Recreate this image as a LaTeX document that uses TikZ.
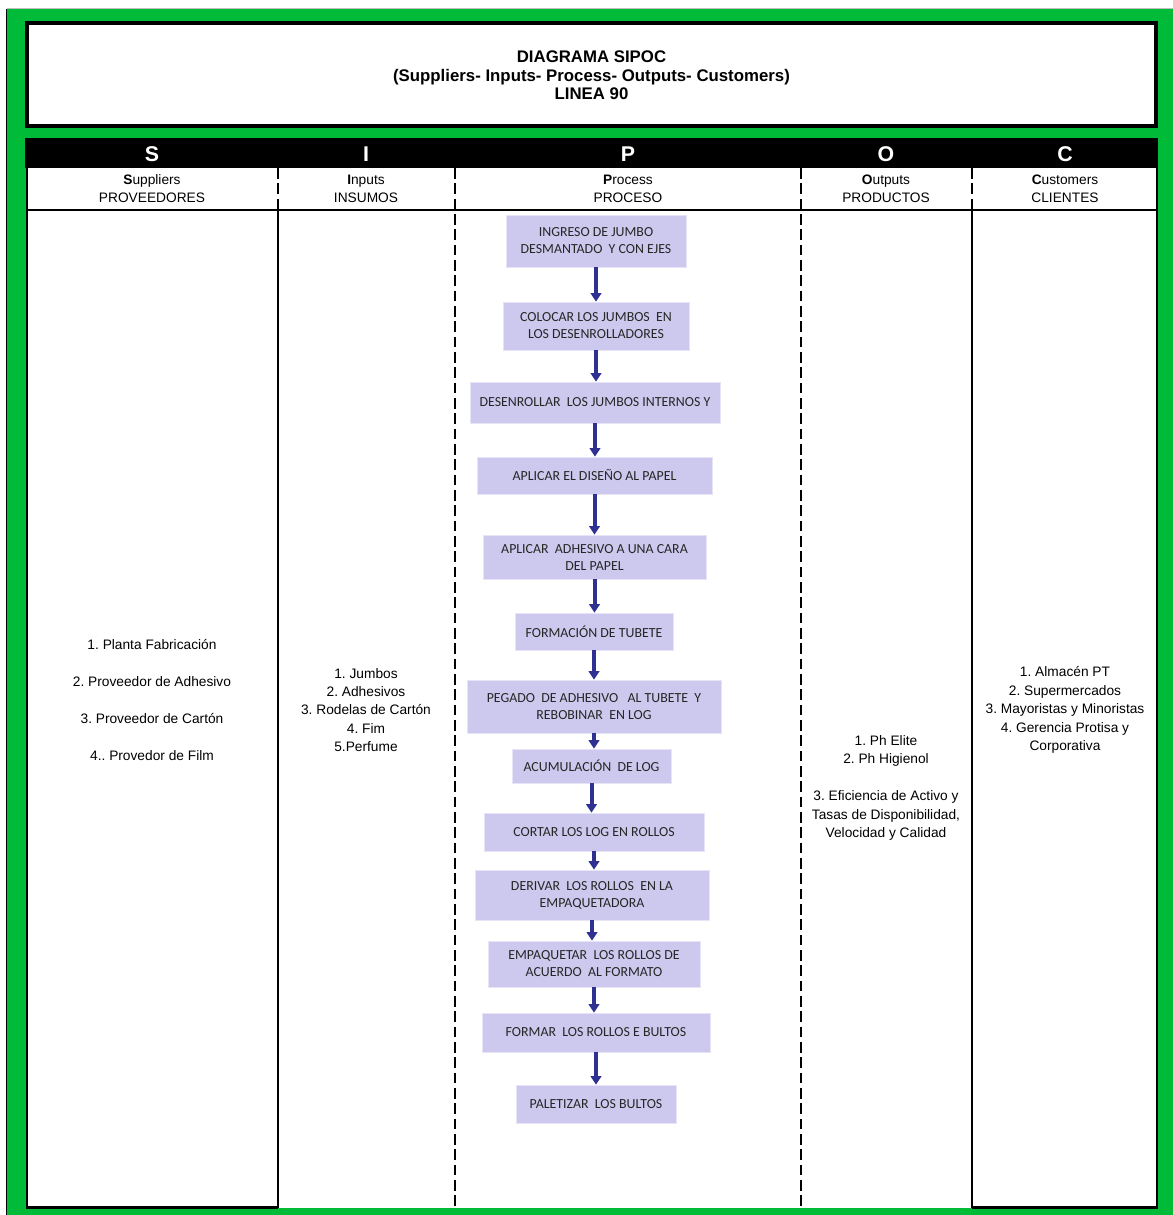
\documentclass[tikz,border=0pt]{standalone}
\usepackage{fontspec}
\setmainfont{Liberation Sans}
\newfontfamily\calib{Carlito}
\usetikzlibrary{arrows.meta}
\definecolor{sipgreen}{RGB}{0,187,56}
\definecolor{lav}{RGB}{205,201,238}
\definecolor{arrblue}{RGB}{46,49,146}
\frenchspacing
\begin{document}
\begin{tikzpicture}[x=0.75pt,y=-0.75pt,
  pbox/.style={fill=lav, draw=lav!50!white, line width=0.5pt, inner sep=0pt, align=center,
    font=\calib\fontsize{10.4}{12.75}\selectfont, text=black!85},
  flow/.style={draw=arrblue, line width=3pt, -{Triangle[length=6.5pt,width=8pt]}},
  body/.style={align=center, inner sep=0pt, font=\fontsize{10.3}{13.8}\selectfont},
  subhead/.style={align=center, inner sep=0pt, font=\fontsize{10.3}{13.5}\selectfont},
  letter/.style={text=white, inner sep=0pt, font=\fontsize{16}{18}\selectfont\bfseries},
  tline/.style={draw=black, line width=2pt},
  dline/.style={draw=black, line width=2.2pt, dash pattern=on 8pt off 3.5pt}
]
\useasboundingbox (0,0) rectangle (1173,1215);
\fill[white] (0,0) rectangle (1173,1215);
% green frame
\fill[sipgreen] (7,9) rectangle (1173,1215);
\draw[black, line width=0.8pt] (6.5,9) -- (6.5,1215);
\draw[black!25, line width=0.6pt] (7,8) -- (1173,8);
% title box
\draw[black, line width=3pt, fill=white] (27,23) rectangle (1156,126);
\node[align=center, inner sep=0pt, font=\fontsize{12.6}{13.9}\selectfont\bfseries] (title) at (591.5,75.5)
  {DIAGRAMA SIPOC\\(Suppliers- Inputs- Process- Outputs- Customers)\\LINEA 90};
% header bar
\fill[black] (25,138) rectangle (1158,168);
\fill[white] (26,168) rectangle (1157,1208);
% table lines
\draw[tline] (27,168) -- (27,1208);
\draw[tline] (1157,168) -- (1157,1208);
\draw[tline] (26,210) -- (1158,210);
\draw[tline] (26,1207.5) -- (278,1207.5);
\draw[tline] (972,1207.5) -- (1158,1207.5);
\draw[dline] (278,168) -- (278,210);
\draw[tline] (278,210) -- (278,1208);
\draw[dline] (455,168) -- (455,1208);
\draw[dline] (801,168) -- (801,1208);
\draw[dline] (972,168) -- (972,210);
\draw[tline] (972,210) -- (972,1208);
% header letters
\node[letter] (hS) at (152,154) {S};
\node[letter] (hI) at (366,154) {I};
\node[letter] (hP) at (628,154) {P};
\node[letter] (hO) at (886,154) {O};
\node[letter] (hC) at (1065,154) {C};
% sub headers
\node[subhead] (sS) at (152,189) {\textbf{S}uppliers\\PROVEEDORES};
\node[subhead] (sI) at (366,189) {\textbf{I}nputs\\INSUMOS};
\node[subhead] (sP) at (628,189) {\textbf{P}rocess\\PROCESO};
\node[subhead] (sO) at (886,189) {\textbf{O}utputs\\PRODUCTOS};
\node[subhead] (sC) at (1065,189) {\textbf{C}ustomers\\CLIENTES};
% column contents
\node[body] (tS) at (152,700) {1. Planta Fabricación\\[13.8pt]2. Proveedor de Adhesivo\\[13.8pt]3. Proveedor de Cartón\\[13.8pt]4.. Provedor de Film};
\node[body] (tI) at (366,710) {1. Jumbos\\2. Adhesivos\\3. Rodelas de Cartón\\4. Fim\\5.Perfume};
\node[body] (tO) at (886,788) {1. Ph Elite\\2. Ph Higienol\\[13.8pt]3. Eficiencia de Activo y\\Tasas de Disponibilidad,\\Velocidad y Calidad};
\node[body] (tC) at (1065,710) {1. Almacén PT\\2. Supermercados\\3. Mayoristas y Minoristas\\4. Gerencia Protisa y\\Corporativa};
% process boxes
\node[pbox, minimum width=135pt, minimum height=39pt] (b1) at (596,241) {INGRESO DE JUMBO\\DESMANTADO\ \ Y CON EJES};
\node[pbox, minimum width=139.5pt, minimum height=36pt] (b2) at (596,326) {COLOCAR LOS JUMBOS\ \ EN\\LOS DESENROLLADORES};
\node[pbox, minimum width=187.5pt, minimum height=30.75pt] (b3) at (595,402.5) {DESENROLLAR\ \ LOS JUMBOS INTERNOS Y};
\node[pbox, minimum width=176.25pt, minimum height=27.75pt] (b4) at (594.5,475.5) {APLICAR EL DISEÑO AL PAPEL};
\node[pbox, minimum width=167.25pt, minimum height=33pt] (b5) at (594.5,557) {APLICAR\ \ ADHESIVO A UNA CARA\\DEL PAPEL};
\node[pbox, minimum width=118.5pt, minimum height=27.75pt] (b6) at (594,631.5) {FORMACIÓN DE TUBETE};
\node[pbox, minimum width=190.5pt, minimum height=39.75pt] (b7) at (594,706.5) {PEGADO\ \ DE ADHESIVO\ \ \ AL TUBETE\ \ Y\\REBOBINAR\ \ EN LOG};
\node[pbox, minimum width=119.25pt, minimum height=25.5pt] (b8) at (591.5,766) {ACUMULACIÓN\ \ DE LOG};
\node[pbox, minimum width=165pt, minimum height=28.5pt] (b9) at (594,832) {CORTAR LOS LOG EN ROLLOS};
\node[pbox, minimum width=175.5pt, minimum height=37.5pt] (b10) at (592,895) {DERIVAR\ \ LOS ROLLOS\ \ EN LA\\EMPAQUETADORA};
\node[pbox, minimum width=159pt, minimum height=34.5pt] (b11) at (594,964) {EMPAQUETAR\ \ LOS ROLLOS DE\\ACUERDO\ \ AL FORMATO};
\node[pbox, minimum width=171pt, minimum height=29.25pt] (b12) at (596,1032.5) {FORMAR\ \ LOS ROLLOS E BULTOS};
\node[pbox, minimum width=120pt, minimum height=28.5pt] (b13) at (596,1104) {PALETIZAR\ \ LOS BULTOS};
% flow arrows
\foreach \a/\b in {b1/b2,b2/b3,b3/b4,b4/b5,b5/b6,b6/b7,b7/b8,b8/b9,b9/b10,b10/b11,b11/b12,b12/b13}
  \draw[flow] (\a.south) -- (\a.south |- \b.north);
\end{tikzpicture}
\end{document}
